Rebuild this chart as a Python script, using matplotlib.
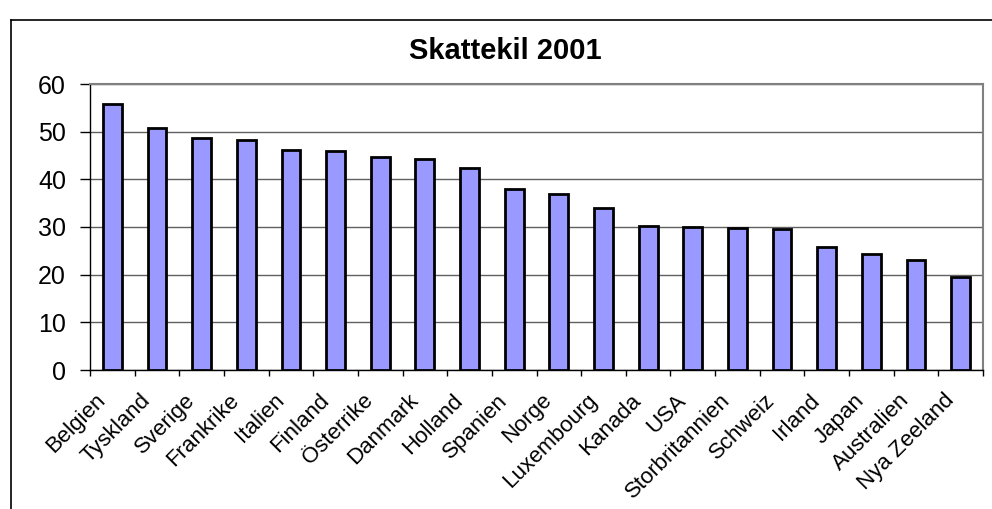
import numpy as np
import matplotlib
matplotlib.use("Agg")
import matplotlib.pyplot as plt
import matplotlib.transforms as mtrans
from matplotlib.lines import Line2D

# Skattekil 2001, values
countries = ["Belgien", "Tyskland", "Sverige", "Frankrike", "Italien", "Finland",
             "Österrike", "Danmark", "Holland", "Spanien", "Norge", "Luxembourg",
             "Kanada", "USA", "Storbritannien", "Schweiz", "Irland", "Japan",
             "Australien", "Nya Zeeland"]
wedge = [55.7, 50.7, 48.6, 48.3, 46.2, 45.9, 44.7, 44.2, 42.3, 37.9,
         37.0, 33.9, 30.3, 30.1, 29.8, 29.5, 25.8, 24.3, 23.1, 19.5]
yticks = [0, 10, 20, 30, 40, 50, 60]

plt.rcParams['font.family'] = ['Liberation Sans', 'DejaVu Sans']

W, H = 992, 509
fig = plt.figure(figsize=(W / 100, H / 100), dpi=100)

# outer chart frame (cut off on the right and bottom)
fig.add_artist(Line2D([11 / W, 11 / W], [0, 1 - 20 / H], color='black', lw=1.2,
                      transform=fig.transFigure))
fig.add_artist(Line2D([11 / W, 1], [1 - 20 / H, 1 - 20 / H], color='black', lw=1.2,
                      transform=fig.transFigure))

left, right, top, bottom = 90, 983, 84, 370
ax = fig.add_axes([left / W, 1 - bottom / H, (right - left) / W, (bottom - top) / H])

x = np.arange(len(countries))
ax.bar(x, wedge, width=0.42, color='#9999FF', edgecolor='black', linewidth=2, zorder=3)

ax.set_xlim(-0.5, len(countries) - 0.5)
ax.set_ylim(0, 60)
ax.set_yticks(yticks)
ax.tick_params(axis='y', labelsize=18, length=7.2, width=1, direction='out', pad=10)

ax.set_xticks(x)
ax.set_xticklabels(countries, rotation=45, ha='right', va='baseline',
                   rotation_mode='anchor', fontsize=16)
ax.tick_params(axis='x', which='major', length=0, pad=26)
ax.set_xticks(np.arange(-0.5, len(countries)), minor=True)
ax.tick_params(axis='x', which='minor', length=4.5, width=1, direction='out')

# nudge labels a little left/up like the original
shift = mtrans.ScaledTranslation(-0.06, 0.05, fig.dpi_scale_trans)
for lab in ax.get_xticklabels():
    lab.set_transform(lab.get_transform() + shift)

ax.yaxis.grid(True, color='#606060', lw=1)
ax.set_axisbelow(True)
for s in ['top', 'right']:
    ax.spines[s].set_color('#808080')
    ax.spines[s].set_linewidth(1.5)
for s in ['left', 'bottom']:
    ax.spines[s].set_color('black')
    ax.spines[s].set_linewidth(1)

fig.text(505 / W, 1 - 51 / H, "Skattekil 2001", ha='center', va='center',
         fontsize=21, fontweight='bold')

fig.savefig("out.png", dpi=100)
